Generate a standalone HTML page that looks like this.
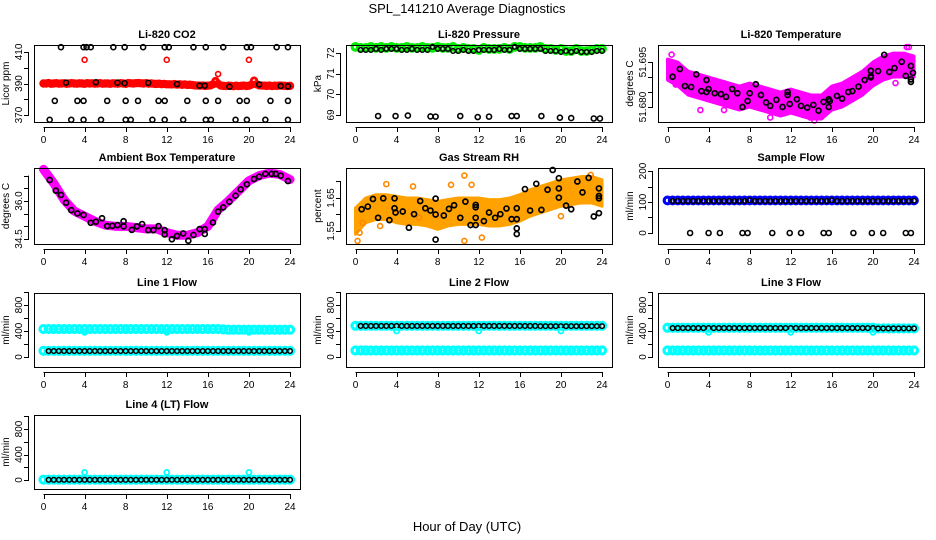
<!DOCTYPE html>
<html><head><meta charset="utf-8"><style>
html,body{margin:0;padding:0;background:#fff;}
svg{display:block;font-family:"Liberation Sans",Arial,sans-serif;}
</style></head><body>
<svg id="chart" width="936" height="540" viewBox="0 0 936 540" xmlns="http://www.w3.org/2000/svg">
<rect x="0" y="0" width="936" height="540" fill="#fff"/>
<text x="467" y="13" font-size="13" text-anchor="middle">SPL_141210  Average Diagnostics</text>
<text x="467" y="531" font-size="13" text-anchor="middle">Hour of Day (UTC)</text>
</svg>
<script>
// ---------- data ----------
const xTickVals=[0,4,8,12,16,20,24];
// CO2
const co2Red=[390,390,390.3,389.8,390,390.2,389.9,390,390.1,389.8,390,390.2,390,
389.9,390.1,390,389.8,390.2,390,390.1,389.9,390,390.2,389.9,390,
390,389.8,390.1,390,389.9,390.2,390,389.8,390.3,390.1,390,390.2,
390.3,390.1,390,390.2,389.9,390,389.8,389.7,389.9,389.6,389.7,389.5,
389.5,389.4,389.6,389.3,389.5,389.2,389.4,389.1,389.2,389,388.8,388.7,
388.6,388.7,388.5,388.6,388.8,389.5,391.5,389.8,388.7,388.5,388.4,388.6,
388.5,388.3,388.6,388.4,388.5,388.7,388.4,388.6,389.3,391.8,389.5,388.8,
388.7,388.6,388.5,388.7,388.4,388.6,388.5,388.7,388.6,388.5,388.4,388.5];
const co2RedOutT=[4,12,20,17];
const co2RedOutV=[405,405,405,396];
const co2BlkT=[1.7,3.9,4.2,4.6,6.8,7.9,9.7,11.8,12.2,14.6,15.8,17.5,19.8,20.2,22.7,23.8,
2.2,5.1,7.2,7.9,10.2,13.0,15.2,15.7,18.1,21.0,23.1,23.8,
1.1,3.3,3.9,6.2,8.0,9.2,11.2,11.8,14.0,15.8,17.0,19.1,19.8,22.1,23.8,
0.6,2.7,3.9,5.6,8.0,8.5,10.6,11.8,13.6,15.8,16.3,18.7,19.8,21.6,23.8];
const co2BlkV=[413,413,413,413,413,413,413,413,413,413,413,413,413,413,413,413,
390.5,390.8,390.5,390.2,390.4,389.6,388.6,388.6,388,389.4,388.4,388.2,
379,379,379,379,379,379,379,379,379,379,379,379,379,379,379,
367,367,367,367,367,367,367,367,367,367,367,367,367,367,367];
// Pressure
const presGreen=[72.3,72.25,72.25,72.3,72.25,72.3,72.25,72.3,72.25,72.25,72.3,72.25,72.25,72.3,72.25,72.25,72.3,72.25,72.25,72.3,72.2,72.25,72.2,72.2,72.15,72.25,72.2,72.2,72.2,72.25,72.2,72.3,72.3,72.25,72.25,72.25,72.3,72.2,72.2,72.15,72.2,72.1,72.1,72.2,72.1,72.1,72.15,72.2,72.2];
const presBlk=[72.15,72.15,72.15,72.2,72.15,72.2,72.2,72.2,72.15,72.15,72.2,72.15,72.15,72.15,72.3,72.2,72.2,72.2,72.1,72.1,72.15,72.1,72.1,72.15,72.15,72.15,72.15,72.2,72.15,72.15,72.3,72.2,72.2,72.2,72.2,72.2,72.1,72.1,72.1,72.05,72.1,72.05,72.1,72.05,72.05,72.05,72.1,72.1];
const presLowT=[2.2,3.9,5.1,7.3,7.8,10.2,11.9,13.0,15.2,15.7,18.1,19.9,21.0,23.2,23.8];
const presLowV=[68.95,68.95,68.97,68.93,68.92,68.95,68.9,68.92,68.95,68.95,68.95,68.87,68.85,68.83,68.83];
// Li-820 temperature
const tempUpper=[51.696,51.695,51.692,51.691,51.690,51.689,51.688,51.687,51.688,51.687,51.686,51.685,51.686,51.685,51.684,51.684,51.687,51.688,51.690,51.692,51.695,51.697,51.698,51.698,51.697];
const tempLower=[51.689,51.687,51.684,51.683,51.682,51.681,51.680,51.679,51.680,51.679,51.678,51.677,51.678,51.677,51.676,51.676,51.679,51.680,51.682,51.684,51.687,51.689,51.690,51.690,51.690];
const tempMagOutT=[0.4,0.8,5.5,8.6,10.0,14.3,22.2,23.3,23.5,3.2,13.9];
const tempMagOutV=[51.6975,51.6875,51.679,51.6875,51.6765,51.6755,51.688,51.7,51.7,51.679,51.6765];
const tempBlkT=[0.5,1.2,1.7,2.3,2.8,3.3,3.8,3.8,4.0,4.6,5.2,5.7,6.3,6.8,7.3,7.8,8.0,8.6,9.1,9.6,10.0,10.6,11.2,11.7,11.7,11.9,12.6,13.0,13.6,14.2,14.7,15.2,15.7,15.7,15.8,16.5,17.0,17.6,18.0,18.6,19.2,19.8,19.8,19.8,20.5,21.1,21.6,22.1,22.8,23.2,23.7,23.7,23.7,23.9];
const tempBlkV=[51.6901,51.6927,51.687,51.6867,51.6909,51.6853,51.685,51.689,51.686,51.6846,51.6843,51.6834,51.686,51.6846,51.680,51.682,51.6846,51.6876,51.684,51.6815,51.6804,51.6824,51.680,51.684,51.685,51.681,51.6826,51.6804,51.6798,51.6807,51.6788,51.6817,51.680,51.6826,51.682,51.6837,51.6828,51.685,51.6853,51.6868,51.689,51.6921,51.6899,51.6903,51.692,51.6974,51.6917,51.693,51.6951,51.6904,51.6937,51.6892,51.6884,51.6914];
// Ambient box temperature
const ambMag=[37.25,36.7,36.05,35.6,35.4,35.2,35.05,35.0,35.0,34.95,34.9,34.9,34.75,34.65,34.65,34.75,35.0,35.65,36.0,36.4,36.8,37.0,37.1,37.05,36.85];
const ambBlkT=[0.6,1.2,1.7,2.2,2.7,3.3,3.9,4.6,5.1,5.7,6.2,6.7,7.2,7.8,7.8,8.6,9.1,9.6,10.2,10.7,11.2,11.8,11.8,12.5,13.0,13.6,14.1,14.6,15.2,15.7,15.7,16.5,17.0,17.5,18.1,18.7,19.2,19.8,20.5,21.0,21.6,22.2,22.6,23.1,23.8];
const ambBlkV=[36.83,36.41,36.24,35.93,35.64,35.51,35.45,35.14,35.18,35.32,35.01,35.02,35.05,35.0,35.2,34.86,35.0,35.09,34.85,34.85,35.01,34.85,34.68,34.49,34.62,34.72,34.43,34.66,34.89,34.7,34.89,35.15,35.58,35.75,35.97,36.21,36.46,36.66,36.87,36.96,37.07,37.07,37.07,37.0,36.79];
// Gas stream RH
const rhUpper=[1.62,1.65,1.66,1.66,1.655,1.65,1.65,1.645,1.64,1.645,1.65,1.65,1.65,1.645,1.645,1.65,1.66,1.675,1.685,1.695,1.705,1.71,1.715,1.715,1.705];
const rhLower=[1.54,1.575,1.585,1.585,1.575,1.57,1.57,1.565,1.555,1.565,1.57,1.57,1.57,1.565,1.565,1.57,1.58,1.595,1.605,1.615,1.625,1.63,1.635,1.635,1.625];
const rhOutT=[0.2,0.4,0.7,3.0,10.6,10.6,12.3,11.3,6.2,9.3,20.0,22.9,2.4,5.6];
const rhOutV=[1.52,1.545,1.575,1.692,1.718,1.52,1.53,1.69,1.59,1.69,1.595,1.72,1.565,1.685];
const rhBlkT=[0.6,1.2,1.7,2.2,2.7,3.3,3.8,3.8,3.9,4.6,5.2,5.7,6.3,6.8,7.3,7.8,7.8,7.8,8.6,9.1,9.6,10.2,10.7,11.2,11.7,11.7,11.7,11.7,12.5,13.0,13.6,14.1,14.7,15.2,15.7,15.7,15.7,15.7,16.5,17.0,17.6,18.1,18.7,19.2,19.8,19.8,19.8,20.5,21.0,21.6,22.1,22.7,23.2,23.7,23.7,23.7,23.7];
const rhBlkV=[1.616,1.624,1.647,1.590,1.649,1.583,1.619,1.649,1.606,1.609,1.560,1.601,1.641,1.619,1.612,1.648,1.600,1.524,1.597,1.617,1.628,1.590,1.639,1.568,1.568,1.629,1.590,1.622,1.580,1.606,1.590,1.601,1.618,1.586,1.586,1.558,1.619,1.541,1.677,1.612,1.693,1.614,1.675,1.735,1.710,1.651,1.679,1.627,1.616,1.700,1.667,1.711,1.594,1.604,1.679,1.649,1.656];
// Sample flow
const sampBlue=[105,105,105,105,105,105,105,105,105,105,105,105,105,105,105,105,105,105,105,105,105,105,105,105,105,105,105,105,105,105,105,105,105,105,105,105,105,105,105,105,105,105,105,105,105,105,105,105,105];
const sampBlk=[103,103,103,103,103,103,103,103,103,103,103,103,103,103,103,106,103,103,103,103,103,103,103,103,103,103,103,103,103,103,103,106,103,103,103,103,103,103,103,103,103,103,103,103,103,103,103,104];
const sampLowT=[2.2,4.0,5.1,7.3,7.8,10.2,11.9,13.0,15.2,15.7,18.1,19.9,21.0,23.2,23.7];
const sampLowV=[0,0,0,0,0,0,0,0,0,0,0,0,0,0,0];
// Line flows
const l1CyanUp=[430,430,430,430,430,430,430,430,430,430,430,430,430,430,430,430,430,430,430,430,430,430,430,430,430,430,430,430,430,430,430,430,430,430,430,425,420,420,420,420,420,420,420,420,420,420,420,420,420];
const l1CyanLow=[95,95,95,95,95,95,95,95,95,95,95,95,95,95,95,95,95,95,95,95,95,95,95,95,95,95,95,95,95,95,95,95,95,95,95,95,95,95,95,95,95,95,95,95,95,95,95,95,95];
const l1Blk=[92,92,92,92,92,92,92,92,92,92,92,92,92,92,92,92,92,92,92,92,92,92,92,92,92,92,92,92,92,92,92,92,92,92,92,92,92,92,92,92,92,92,92,92,92,92,92,92];
const l1OutV=[380,380,380];
const l2CyanUp=[480,480,480,480,480,480,480,480,480,480,480,480,480,480,480,480,480,480,480,480,480,480,480,480,480,480,480,480,480,480,480,480,480,480,480,480,480,480,480,480,480,480,480,480,480,480,480,480,480];
const l2CyanLow=[100,100,100,100,100,100,100,100,100,100,100,100,100,100,100,100,100,100,100,100,100,100,100,100,100,100,100,100,100,100,100,100,100,100,100,100,100,100,100,100,100,100,100,100,100,100,100,100,100];
const l2Blk=[478,478,478,478,478,478,478,478,478,478,478,478,478,478,478,478,478,478,478,478,478,478,478,478,478,478,478,478,478,478,478,478,478,478,478,475,475,475,475,475,475,475,475,475,475,475,475,475];
const l2OutV=[400,400,400];
const l3CyanUp=[450,450,450,450,450,450,450,450,450,450,450,450,450,450,450,450,450,450,450,450,450,450,450,450,450,450,450,450,450,450,450,450,450,450,450,450,450,450,450,450,450,440,440,440,440,440,440,440,440];
const l3CyanLow=[100,100,100,100,100,100,100,100,100,100,100,100,100,100,100,100,100,100,100,100,100,100,100,100,100,100,100,100,100,100,100,100,100,100,100,100,100,100,100,100,100,100,100,100,100,100,100,100,100];
const l3Blk=[445,445,445,445,445,445,445,445,445,445,445,445,445,445,445,445,445,445,445,445,445,445,445,445,445,445,445,445,445,445,445,445,445,445,445,445,445,445,445,445,440,440,440,440,440,440,440,440];
const l3OutV=[380,380,380];
const l4Cyan=[5,5,5,5,5,5,5,5,5,5,5,5,5,5,5,5,5,5,5,5,5,5,5,5,5,5,5,5,5,5,5,5,5,5,5,5,5,5,5,5,5,5,5,5,5,5,5,5,5];
const l4Blk=[3,3,3,3,3,3,3,3,3,3,3,3,3,3,3,3,3,3,3,3,3,3,3,3,3,3,3,3,3,3,3,3,3,3,3,3,3,3,3,3,3,3,3,3,3,3,3,3];
const l4OutV=[120,120,120];
const flowOutT=[4,12,20];

// ---------- drawing ----------
const NS='http://www.w3.org/2000/svg';
const svg=document.getElementById('chart');
const colL=[34,346,658], rowT=[45,168,293,415], rowB=[122,244,367,489], PW=266;
function el(tag,parent){const e=document.createElementNS(NS,tag);parent.appendChild(e);return e;}
const halfT=n=>Array.from({length:n},(_,i)=>i*0.5);
const halfT1=n=>Array.from({length:n},(_,i)=>0.5+i*0.5);
const hourT=n=>Array.from({length:n},(_,i)=>i);

function panel(col,row,o){
  const L=colL[col],T=rowT[row],B=rowB[row];
  const g=el('g',svg);
  
  
  const xs=t=>L+9.5+t*246.5/24;
  const ys=v=>B-(v-o.ymin)/(o.ymax-o.ymin)*(B-T);
  const plot=el('g',g);
  
  
  const box=el('rect',g);
  
  
  box.setAttribute('x',L+0.5);box.setAttribute('y',T+0.5);box.setAttribute('width',PW);box.setAttribute('height',B-T);
  box.setAttribute('fill','none');box.setAttribute('stroke','#000');box.setAttribute('stroke-width','1');
  const t=el('text',g);
  
  
  t.setAttribute('x',L+PW/2);t.setAttribute('y',T-7);t.setAttribute('text-anchor','middle');
  t.setAttribute('font-size','11');t.setAttribute('font-weight','bold');t.textContent=o.title;
  const xa=el('g',g);
  
  
  const xl=el('line',xa);
  
  
  xl.setAttribute('x1',xs(0));xl.setAttribute('x2',xs(24));xl.setAttribute('y1',B+5.5);xl.setAttribute('y2',B+5.5);xl.setAttribute('stroke','#000');
  xTickVals.forEach(v=>{
    const tk=el('line',xa);
    
    
    tk.setAttribute('x1',Math.round(xs(v))+0.5);tk.setAttribute('x2',Math.round(xs(v))+0.5);tk.setAttribute('y1',B+5);tk.setAttribute('y2',B+10);tk.setAttribute('stroke','#000');
    const lb=el('text',xa);
    
    
    lb.setAttribute('x',xs(v));lb.setAttribute('y',B+21);lb.setAttribute('text-anchor','middle');lb.setAttribute('font-size','10');lb.textContent=String(v);
  });
  const ya=el('g',g);
  
  
  const yt=o.yticks;
  const yl=el('line',ya);
  
  
  yl.setAttribute('x1',L-5.5);yl.setAttribute('x2',L-5.5);yl.setAttribute('y1',ys(yt[0]));yl.setAttribute('y2',ys(yt[yt.length-1]));yl.setAttribute('stroke','#000');
  yt.forEach(v=>{
    const tk=el('line',ya);
    
    
    const yy=Math.round(ys(v))+0.5;
    tk.setAttribute('x1',L-10);tk.setAttribute('x2',L-5);tk.setAttribute('y1',yy);tk.setAttribute('y2',yy);tk.setAttribute('stroke','#000');
  });
  o.ylabels.forEach(v=>{
    const lb=el('text',ya);
    
    
    const x=L-12,y=ys(v);
    lb.setAttribute('x',x);lb.setAttribute('y',y);lb.setAttribute('text-anchor','middle');lb.setAttribute('font-size','10');
    lb.setAttribute('transform','rotate(-90 '+x+' '+y+')');lb.textContent=o.fmt?o.fmt(v):String(v);
  });
  const yt2=el('text',g);
  
  
  const yx=L-25,yy=(T+B)/2;
  yt2.setAttribute('x',yx);yt2.setAttribute('y',yy);yt2.setAttribute('text-anchor','middle');yt2.setAttribute('font-size','10');
  yt2.setAttribute('transform','rotate(-90 '+yx+' '+yy+')');yt2.textContent=o.ylab;
  return {xs,ys,g:plot};
}
function pts(P,ts,vs,color,r,sw,name){
  const g=el('g',P.g);
  
  
  for(let i=0;i<vs.length&&i<ts.length;i++){
    const c=el('circle',g);
    
    
    c.setAttribute('cx',P.xs(ts[i]));c.setAttribute('cy',P.ys(vs[i]));c.setAttribute('r',r);
    c.setAttribute('fill','none');c.setAttribute('stroke',color);c.setAttribute('stroke-width',sw);
  }
}
function band(P,ts,up,lo,color,name){
  const p=el('polygon',P.g);
  
  
  const a=[];
  for(let i=0;i<up.length;i++)a.push(P.xs(ts[i])+','+P.ys(up[i]));
  for(let i=lo.length-1;i>=0;i--)a.push(P.xs(ts[i])+','+P.ys(lo[i]));
  p.setAttribute('points',a.join(' '));p.setAttribute('fill',color);p.setAttribute('stroke',color);p.setAttribute('stroke-width','3');p.setAttribute('stroke-linejoin','round');
}
function thick(P,ts,vs,color,w,name){
  const p=el('polyline',P.g);
  
  
  p.setAttribute('points',vs.map((v,i)=>P.xs(ts[i])+','+P.ys(v)).join(' '));
  p.setAttribute('fill','none');p.setAttribute('stroke',color);p.setAttribute('stroke-width',w);p.setAttribute('stroke-linejoin','round');p.setAttribute('stroke-linecap','round');
}
const flowTicks=[0,200,400,600,800,1000], flowLabels=[0,400,800];

P=panel(0,0,{name:'co2-panel',title:'Li-820 CO2',ylab:'Licor ppm',ymin:365.6,ymax:414.4,yticks:[370,380,390,400,410],ylabels:[370,390,410]});
pts(P,Array.from({length:co2Red.length},(_,i)=>i*0.25),co2Red,'#f00',2.8,2.8,'co2-red-series');
pts(P,co2RedOutT,co2RedOutV,'#f00',2.5,1.6,'co2-red-outliers');
pts(P,co2BlkT,co2BlkV,'#000',2.5,1.6,'co2-black-series');

P=panel(1,0,{name:'pressure-panel',title:'Li-820 Pressure',ylab:'kPa',ymin:68.66,ymax:72.39,yticks:[69,70,71,72],ylabels:[69,70,71,72]});
pts(P,halfT(presGreen.length),presGreen,'#0e0',3.3,3.2,'pressure-green-series');
pts(P,halfT1(presBlk.length),presBlk,'#000',2.3,1.5,'pressure-black-series');
pts(P,presLowT,presLowV,'#000',2.5,1.6,'pressure-low-points');

P=panel(2,0,{name:'li820-temp-panel',title:'Li-820 Temperature',ylab:'degrees C',ymin:51.675,ymax:51.7007,yticks:[51.680,51.685,51.690,51.695],ylabels:[51.680,51.695],fmt:v=>v.toFixed(3)});
band(P,hourT(tempUpper.length),tempUpper,tempLower,'#f0f','li820-temp-magenta-cloud');
pts(P,tempMagOutT,tempMagOutV,'#f0f',2.5,1.6,'li820-temp-magenta-outliers');
pts(P,tempBlkT,tempBlkV,'#000',2.5,1.7,'li820-temp-black-series');

P=panel(0,1,{name:'ambient-temp-panel',title:'Ambient Box Temperature',ylab:'degrees C',ymin:34.303,ymax:37.303,yticks:[34.5,35,35.5,36,36.5,37],ylabels:[34.5,36.0],fmt:v=>v.toFixed(1)});
thick(P,hourT(ambMag.length),ambMag,'#f0f',9,'ambient-magenta-series');
pts(P,ambBlkT,ambBlkV,'#000',2.5,1.7,'ambient-black-series');

P=panel(1,1,{name:'rh-panel',title:'Gas Stream RH',ylab:'percent',ymin:1.5106,ymax:1.7409,yticks:[1.55,1.60,1.65,1.70],ylabels:[1.55,1.65],fmt:v=>v.toFixed(2)});
band(P,hourT(rhUpper.length),rhUpper,rhLower,'#ffa200','rh-orange-cloud');
pts(P,rhOutT,rhOutV,'#f80',2.5,1.6,'rh-orange-outliers');
pts(P,rhBlkT,rhBlkV,'#000',2.5,1.7,'rh-black-series');

P=panel(2,1,{name:'sample-flow-panel',title:'Sample Flow',ylab:'ml/min',ymin:-35.5,ymax:209.7,yticks:[0,50,100,150,200],ylabels:[0,100,200]});
pts(P,halfT(sampBlue.length),sampBlue,'#00f',3.3,3.2,'sample-flow-blue-series');
pts(P,halfT1(sampBlk.length),sampBlk,'#000',2.3,1.5,'sample-flow-black-series');
pts(P,sampLowT,sampLowV,'#000',2.5,1.6,'sample-flow-low-points');

P=panel(0,2,{name:'line1-flow-panel',title:'Line 1 Flow',ylab:'ml/min',ymin:-154,ymax:985,yticks:flowTicks,ylabels:flowLabels});
pts(P,halfT(l1CyanUp.length),l1CyanUp,'#0ff',3.5,3.2,'line1-cyan-upper');
pts(P,halfT(l1CyanLow.length),l1CyanLow,'#0ff',3.5,3.2,'line1-cyan-lower');
pts(P,halfT1(l1Blk.length),l1Blk,'#000',2.3,1.5,'line1-black-series');
pts(P,flowOutT,l1OutV,'#0ff',2.5,1.8,'line1-cyan-outliers');

P=panel(1,2,{name:'line2-flow-panel',title:'Line 2 Flow',ylab:'ml/min',ymin:-154,ymax:985,yticks:flowTicks,ylabels:flowLabels});
pts(P,halfT(l2CyanUp.length),l2CyanUp,'#0ff',3.5,3.2,'line2-cyan-upper');
pts(P,halfT(l2CyanLow.length),l2CyanLow,'#0ff',3.5,3.2,'line2-cyan-lower');
pts(P,halfT1(l2Blk.length),l2Blk,'#000',2.3,1.5,'line2-black-series');
pts(P,flowOutT,l2OutV,'#0ff',2.5,1.8,'line2-cyan-outliers');

P=panel(2,2,{name:'line3-flow-panel',title:'Line 3 Flow',ylab:'ml/min',ymin:-154,ymax:985,yticks:flowTicks,ylabels:flowLabels});
pts(P,halfT(l3CyanUp.length),l3CyanUp,'#0ff',3.5,3.2,'line3-cyan-upper');
pts(P,halfT(l3CyanLow.length),l3CyanLow,'#0ff',3.5,3.2,'line3-cyan-lower');
pts(P,halfT1(l3Blk.length),l3Blk,'#000',2.3,1.5,'line3-black-series');
pts(P,flowOutT,l3OutV,'#0ff',2.5,1.8,'line3-cyan-outliers');

P=panel(0,3,{name:'line4-flow-panel',title:'Line 4 (LT) Flow',ylab:'ml/min',ymin:-141,ymax:1020,yticks:flowTicks,ylabels:flowLabels});
pts(P,halfT(l4Cyan.length),l4Cyan,'#0ff',3.5,3.2,'line4-cyan-series');
pts(P,halfT1(l4Blk.length),l4Blk,'#000',2.3,1.5,'line4-black-series');
pts(P,flowOutT,l4OutV,'#0ff',2.5,1.8,'line4-cyan-outliers');
</script>
</body></html>
